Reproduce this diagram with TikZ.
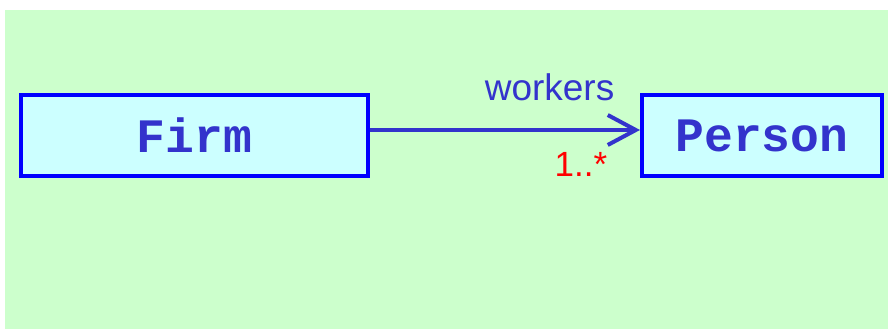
\documentclass[tikz,border=0pt]{standalone}
\usepackage{fontspec}
\setsansfont{Liberation Sans}
\setmonofont{Liberation Mono}
\usetikzlibrary{arrows.meta, positioning}
\definecolor{umlbg}{HTML}{CCFFCC}
\definecolor{umlfill}{HTML}{CCFFFF}
\definecolor{umlline}{HTML}{0000FF}
\definecolor{umltext}{HTML}{3333CC}

\begin{document}
\begin{tikzpicture}[x=1pt, y=1pt,
    classbox/.style={draw=umlline, fill=umlfill, line width=4pt, minimum height=81pt,
        text=umltext, font=\fontsize{48}{48}\selectfont\ttfamily\bfseries}]
    \useasboundingbox (0,0) rectangle (888,-331);
    \fill[umlbg] (5,-10) rectangle (888,-329);
    \node[classbox, minimum width=347pt] (firm) at (194.5,-135.5) {Firm};
    \node[classbox, minimum width=240pt] (person) at (762,-135.5) {Person};
    \draw[umltext, line width=4pt, -{Straight Barb[length=28pt, width=30pt]}]
        (firm.east |- 0,-130) -- (person.west |- 0,-130)
        node[pos=0.665, anchor=base, yshift=29pt, font=\fontsize{37}{37}\selectfont\sffamily] {workers}
        node[pos=0.781, anchor=base, yshift=-47pt, text=red, font=\fontsize{35}{35}\selectfont\sffamily] {1..*};
\end{tikzpicture}
\end{document}
